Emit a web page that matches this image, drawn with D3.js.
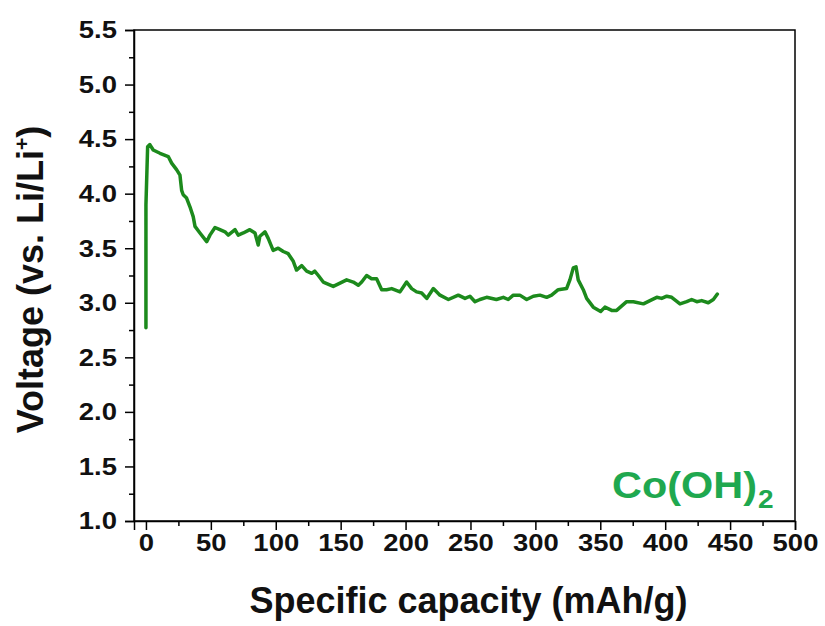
<!DOCTYPE html>
<html><head><meta charset="utf-8">
<script src="https://cdn.jsdelivr.net/npm/d3@7"></script>
<style>body{margin:0;background:#fff}text{font-family:"Liberation Sans",Arial,sans-serif}</style>
</head><body><svg id="c" width="825" height="626"></svg>
<script>
const capacity = [0,0,1.3,3,5.6,10.8,17.2,19.8,23.6,26.2,
27.5,28.7,31.3,33.9,36.4,37.8,41.6,46.8,49.3,53.2,
57,60.9,63.4,68.6,71.1,75,80,84,86.5,87.8,
91.7,94.2,98,101.9,105.8,109.6,113.5,116,120,123.8,
127.7,130,132.8,136.6,144.3,149.5,154.6,159.7,163.6,166.2,
170,173.8,177.7,181.6,185.4,189.3,195.7,200.8,204.7,208.5,
212.4,216.3,221.4,226.5,233,240.6,245.8,249.6,253.5,257.3,
262.4,270,275.3,279.1,283,288,293.3,298.4,303.5,308.7,
312.5,317.6,324,326.6,329.2,331.3,333,336.9,339.5,344.6,
350.3,353.6,358.8,362.6,370.3,375.5,383.2,388.3,393.5,397.3,
401.2,405,411.4,416.6,420.4,424.3,428.1,433.2,437.1,440.2];
const voltage = [2.77,3.90,4.43,4.45,4.40,4.37,4.34,4.28,4.22,4.17,
4.03,3.99,3.96,3.88,3.79,3.70,3.64,3.56,3.62,3.69,
3.67,3.65,3.62,3.67,3.62,3.64,3.67,3.64,3.53,3.61,
3.65,3.59,3.48,3.50,3.47,3.45,3.38,3.30,3.34,3.29,
3.27,3.29,3.25,3.19,3.15,3.18,3.21,3.19,3.16,3.19,
3.25,3.22,3.22,3.12,3.12,3.13,3.10,3.19,3.13,3.10,
3.09,3.04,3.13,3.07,3.03,3.07,3.04,3.06,3.01,3.03,
3.05,3.03,3.05,3.03,3.07,3.07,3.03,3.06,3.07,3.05,
3.07,3.12,3.13,3.21,3.32,3.33,3.21,3.12,3.04,2.96,
2.92,2.96,2.93,2.93,3.01,3.01,2.99,3.02,3.05,3.04,
3.06,3.05,2.99,3.01,3.03,3.01,3.02,3.00,3.03,3.08];
const xTicks = [0,50,100,150,200,250,300,350,400,450,500];
const xMinor = [25,75,125,175,225,275,325,375,425,475];
const yTicks = [1.0,1.5,2.0,2.5,3.0,3.5,4.0,4.5,5.0,5.5];
const yMinor = [1.25,1.75,2.25,2.75,3.25,3.75,4.25,4.75,5.25];
const xTitle = "Specific capacity (mAh/g)";
const sampleLabel = "Co(OH)";

const W = 825, H = 626;
const m = {top:30, right:30, bottom:105, left:134};
const svg = d3.select("#c");
const x = d3.scaleLinear().domain([-9.2, 500]).range([m.left, W - m.right]);
const y = d3.scaleLinear().domain([1.0, 5.5]).range([H - m.bottom, m.top]);

function stretch(sel, k) {
  sel.each(function(){
    const len = this.getComputedTextLength();
    d3.select(this).attr("textLength", len * k).attr("lengthAdjust", "spacingAndGlyphs");
  });
}

// frame
svg.append("rect").attr("x", m.left).attr("y", m.top)
  .attr("width", W - m.left - m.right).attr("height", H - m.top - m.bottom)
  .attr("fill", "none").attr("stroke", "#000").attr("stroke-width", 1.5);

// x axis
const gx = svg.append("g").attr("transform", `translate(0,${H - m.bottom})`)
  .call(d3.axisBottom(x).tickValues(xTicks).tickFormat(d3.format("d")).tickSize(9).tickPadding(4));
gx.select(".domain").attr("stroke-width", 1.5);
gx.selectAll(".tick line").attr("stroke-width", 1.5);
gx.selectAll(".tick text").attr("font-size", 24.5).attr("font-weight", "bold").attr("fill", "#111")
  .call(stretch, 1.12);
svg.append("g").attr("transform", `translate(0,${H - m.bottom})`)
  .call(d3.axisBottom(x).tickValues(xMinor).tickFormat("").tickSize(5))
  .call(g => { g.select(".domain").remove(); g.selectAll("line").attr("stroke-width", 1.5); });

// y axis
const gy = svg.append("g").attr("transform", `translate(${m.left},0)`)
  .call(d3.axisLeft(y).tickValues(yTicks).tickFormat(d3.format(".1f")).tickSize(9).tickPadding(8));
gy.select(".domain").attr("stroke-width", 1.5);
gy.selectAll(".tick line").attr("stroke-width", 1.5);
gy.selectAll(".tick text").attr("font-size", 24.5).attr("font-weight", "bold").attr("fill", "#111")
  .call(stretch, 1.12);
svg.append("g").attr("transform", `translate(${m.left},0)`)
  .call(d3.axisLeft(y).tickValues(yMinor).tickFormat("").tickSize(5))
  .call(g => { g.select(".domain").remove(); g.selectAll("line").attr("stroke-width", 1.5); });

// line
const pts = capacity.map((c, i) => [c, voltage[i]]);
svg.append("path").datum(pts)
  .attr("fill", "none").attr("stroke", "#1c8a1c").attr("stroke-width", 3.5)
  .attr("stroke-linejoin", "round").attr("stroke-linecap", "round")
  .attr("d", d3.line().x(d => x(d[0])).y(d => y(d[1])));

// titles
svg.append("text").attr("x", (m.left + W - m.right) / 2 + 4).attr("y", 613)
  .attr("text-anchor", "middle").attr("font-size", 36).attr("font-weight", "bold").attr("fill", "#111")
  .text(xTitle);

const yt = svg.append("text")
  .attr("transform", `translate(43,${(m.top + H - m.bottom) / 2 + 4}) rotate(-90)`)
  .attr("text-anchor", "middle").attr("font-size", 36).attr("font-weight", "bold").attr("fill", "#111");
yt.append("tspan").text("Voltage (vs. Li/Li");
yt.append("tspan").attr("font-size", 21).attr("dy", -14).text("+");
yt.append("tspan").attr("dy", 14).text(")");

// sample label
const lg = svg.append("g").attr("transform", `translate(757,498) scale(1.12,1)`);
lg.append("text").attr("text-anchor", "end").attr("font-size", 37).attr("font-weight", "bold")
  .attr("fill", "#1fa84f").text(sampleLabel);
lg.append("text").attr("x", 1).attr("y", 10).attr("font-size", 25).attr("font-weight", "bold")
  .attr("fill", "#1fa84f").text("2");
</script></body></html>
